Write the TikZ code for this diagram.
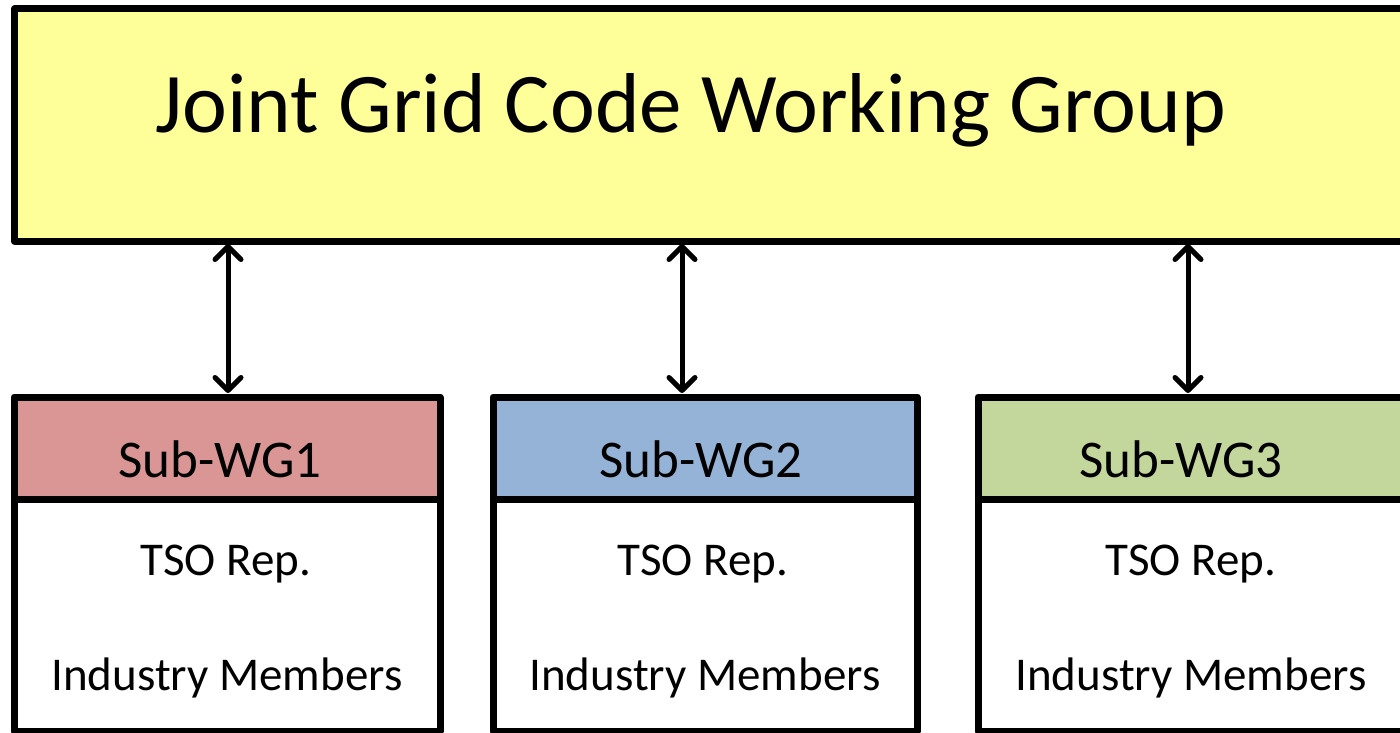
\documentclass[tikz,border=0pt]{standalone}
\usepackage{fontspec}
\setmainfont{Carlito}
\usetikzlibrary{arrows.meta}
\definecolor{jgyellow}{HTML}{FFFF99}
\definecolor{wgred}{HTML}{D99694}
\definecolor{wgblue}{HTML}{95B3D7}
\definecolor{wggreen}{HTML}{C3D69B}
\tikzset{
  frame/.style={draw=black, line width=7pt, line join=round, rectangle,
    inner sep=0pt, outer sep=0pt, anchor=north west},
  header/.style={frame, minimum height=102pt},
  body/.style={frame, fill=white, minimum height=232pt, anchor=north},
  wgtitle/.style={anchor=base, font=\fontsize{53}{58}\selectfont},
  member/.style={anchor=base, font=\fontsize{47}{52}\selectfont},
  link/.style={line width=5pt, {Straight Barb[length=13pt,width=26pt,line cap=round,line join=round]}-{Straight Barb[length=13pt,width=26pt,line cap=round,line join=round]}}
}
\begin{document}
\begin{tikzpicture}[x=1pt,y=-1pt]
\useasboundingbox (0,0) rectangle (1400,733);
\clip (0,0) rectangle (1400,733);
\fill[white] (0,0) rectangle (1400,733);

% main working group
\node[frame, fill=jgyellow, minimum width=1460pt, minimum height=232pt] (jg) at (14.5,9) {};
\node[anchor=base west, font=\fontsize{85}{90}\selectfont] (jgt) at (152,132) {Joint Grid Code Working Group};

% sub working groups
\node[header, fill=wgred,   minimum width=426pt] (h1) at (14,397) {};
\node[body, minimum width=426pt] (b1) at (h1.south) {};
\node[header, fill=wgblue,  minimum width=424pt] (h2) at (493,397) {};
\node[body, minimum width=424pt] (b2) at (h2.south) {};
\node[header, fill=wggreen, minimum width=440pt] (h3) at (978,397) {};
\node[body, minimum width=440pt] (b3) at (h3.south) {};

\node[wgtitle] (t1) at (220,477) {Sub-WG1};
\node[wgtitle] (t2) at (701,477) {Sub-WG2};
\node[wgtitle] (t3) at (1181,477) {Sub-WG3};

\node[member] (r1) at (226,575) {TSO Rep.};
\node[member] (r2) at (703,575) {TSO Rep.};
\node[member] (r3) at (1191,575) {TSO Rep.};

\node[member] (m1) at (227,690) {Industry Members};
\node[member] (m2) at (705,690) {Industry Members};
\node[member] (m3) at (1191,690) {Industry Members};

% two-way links
\coordinate (u1) at (228,244);  \coordinate (d1) at (228,393);
\coordinate (u2) at (682,244);  \coordinate (d2) at (682,393);
\coordinate (u3) at (1188,244); \coordinate (d3) at (1188,393);
\draw[link] (u1) -- (d1);
\draw[link] (u2) -- (d2);
\draw[link] (u3) -- (d3);
\end{tikzpicture}
\end{document}
